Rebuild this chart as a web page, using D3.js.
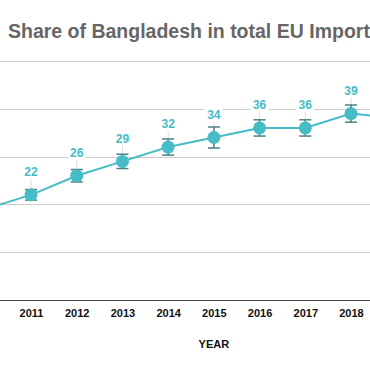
<!DOCTYPE html>
<html><head><meta charset="utf-8">
<script src="https://cdn.jsdelivr.net/npm/d3@7"></script>
<style>body{margin:0;background:#fff}svg{display:block;font-family:"Liberation Sans",Arial,sans-serif}</style>
</head><body><svg id="c" width="370" height="371"></svg>
<script>
const years = [2010, 2011, 2012, 2013, 2014, 2015, 2016, 2017, 2018, 2019];
const shares = [19, 22, 26, 29, 32, 34, 36, 36, 39, 38];
const errors = [1.0, 1.1, 1.3, 1.5, 1.7, 2.2, 1.7, 1.7, 1.8, 1.8];
const labelYears = [2011, 2012, 2013, 2014, 2015, 2016, 2017, 2018];
const yTicks = [0, 10, 20, 30, 40, 50];
const title = "Share of Bangladesh in total EU Imports";
const xTitle = "YEAR";

const data = years.map((y, i) => ({year: y, v: shares[i], e: errors[i]}));
const svg = d3.select("#c");
const W = 370;
const teal = "#45bcc6";

const x = d3.scalePoint().domain(years).range([-14.7, 396.7]);
const y = d3.scaleLinear().domain([0, 50]).range([300, 61]);

// title
svg.append("text").attr("x", 8).attr("y", 38)
  .attr("font-size", 19.5).attr("font-weight", "bold").attr("fill", "#666")
  .text(title);

// gridlines
svg.append("g").selectAll("line").data(yTicks.filter(d => d > 0)).join("line")
  .attr("x1", 0).attr("x2", W)
  .attr("y1", d => Math.round(y(d)) + 0.5).attr("y2", d => Math.round(y(d)) + 0.5)
  .attr("stroke", "#cccccc").attr("stroke-width", 1);

// x axis
const xAxis = svg.append("g").attr("transform", `translate(0,${Math.round(y(0)) + 0.5})`)
  .call(d3.axisBottom(x).tickValues(labelYears).tickSize(0).tickPadding(9));
xAxis.select(".domain").attr("d", `M0,0H${W}`).attr("stroke", "#444").attr("stroke-width", 1.2);
xAxis.selectAll("text").attr("font-size", 11).attr("font-weight", "bold").attr("fill", "#111")
  .attr("font-family", '"Liberation Sans",Arial,sans-serif');

svg.append("text").attr("x", x(2015)).attr("y", 348).attr("text-anchor", "middle")
  .attr("font-size", 11).attr("font-weight", "bold").attr("fill", "#111").text(xTitle);

const shown = data.filter(d => labelYears.includes(d.year));

// leader lines
svg.append("g").selectAll("line").data(shown).join("line")
  .attr("x1", d => x(d.year)).attr("x2", d => x(d.year))
  .attr("y1", d => y(d.v) - 17).attr("y2", d => y(d.v) - 6)
  .attr("stroke", "#dddddd").attr("stroke-width", 1);

// line
svg.append("path").datum(data)
  .attr("d", d3.line().x(d => x(d.year)).y(d => y(d.v)))
  .attr("fill", "none").attr("stroke", teal).attr("stroke-width", 2);

// error bars
const eb = svg.append("g").attr("stroke", "#4d7f84").attr("stroke-width", 1.5);
eb.selectAll(".v").data(data).join("line")
  .attr("x1", d => x(d.year)).attr("x2", d => x(d.year))
  .attr("y1", d => y(d.v + d.e)).attr("y2", d => y(d.v - d.e));
eb.selectAll(".t").data(data).join("line")
  .attr("x1", d => x(d.year) - 6).attr("x2", d => x(d.year) + 6)
  .attr("y1", d => y(d.v + d.e)).attr("y2", d => y(d.v + d.e));
eb.selectAll(".b").data(data).join("line")
  .attr("x1", d => x(d.year) - 6).attr("x2", d => x(d.year) + 6)
  .attr("y1", d => y(d.v - d.e)).attr("y2", d => y(d.v - d.e));

// points
svg.append("g").selectAll("circle").data(data).join("circle")
  .attr("cx", d => x(d.year)).attr("cy", d => y(d.v)).attr("r", 6.5)
  .attr("fill", teal);

// labels
const lg = svg.append("g").selectAll("g").data(shown).join("g")
  .attr("transform", d => `translate(${x(d.year)},${y(d.v) - 23})`);
lg.append("rect").attr("x", -9).attr("y", -7).attr("width", 18).attr("height", 14).attr("fill", "#fff");
lg.append("text").attr("text-anchor", "middle").attr("dy", "0.35em")
  .attr("font-size", 12).attr("font-weight", "bold").attr("fill", teal)
  .text(d => d.v);
</script></body></html>
